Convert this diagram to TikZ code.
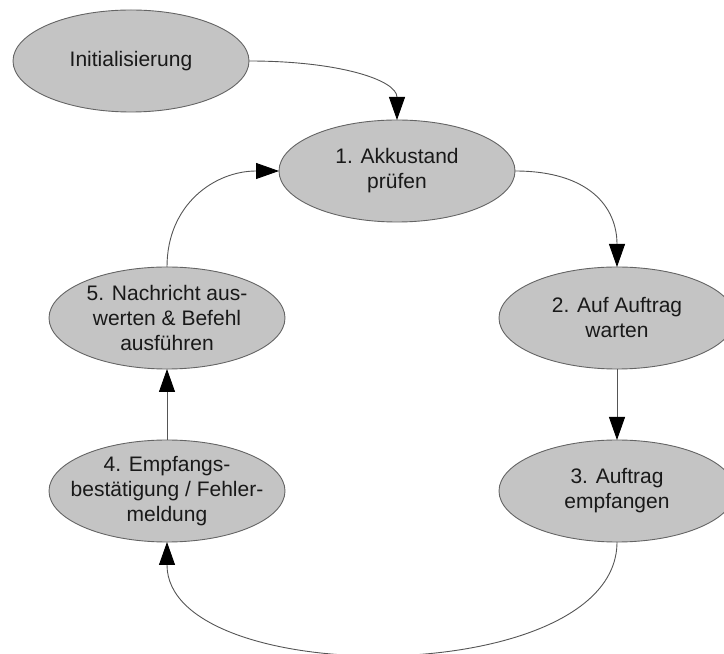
\documentclass[tikz,border=0pt]{standalone}
\usepackage{fontspec}
\setmainfont{Liberation Sans}
\usetikzlibrary{shapes.geometric,arrows.meta}
\definecolor{stfill}{RGB}{196,196,196}
\definecolor{stline}{RGB}{100,100,100}
\definecolor{conn}{RGB}{85,85,85}
\tikzset{
  state/.style={ellipse, draw=stline, fill=stfill, line width=0.9pt,
    minimum width=236pt, minimum height=102pt, inner sep=0pt, outer sep=0pt},
  statetext/.style={align=center, inner sep=0pt,
    font=\fontsize{21pt}{25pt}\selectfont, text=black!90},
  conn/.style={draw=conn, line width=0.9pt,
    -{Triangle[length=23pt,width=16pt,color=black]}},
}
\begin{document}
\begin{tikzpicture}[x=1pt,y=1pt]
  \useasboundingbox (0,0) rectangle (724,654);
  \clip (0,0) rectangle (724,654);

  % states of the cycle
  \node[state] (init) at (131,593) {};
  \node[state] (e1) at (397,483) {};
  \node[state] (e2) at (617,336) {};
  \node[state] (e3) at (617,163) {};
  \node[state] (e4) at (167,163) {};
  \node[state] (e5) at (167,336) {};

  \node[statetext] (tinit) at (init) {Initialisierung};
  \node[statetext] (t1) at (e1) {1. Akkustand\\prüfen};
  \node[statetext] (t2) at (e2) {2. Auf Auftrag\\warten};
  \node[statetext] (t3) at (e3) {3. Auftrag\\empfangen};
  \node[statetext] (t4) at (e4) {4. Empfangs-\\bestätigung / Fehler-\\meldung};
  \node[statetext] (t5) at (e5) {5. Nachricht aus-\\werten \& Befehl\\ausführen};

  % transitions
  \draw[conn] (init.east) .. controls +(90,0) and +(0,40) .. (e1.north);
  \draw[conn] (e1.east) .. controls +(74,0) and +(0,60) .. (e2.north);
  \draw[conn] (e2.south) -- (e3.north);
  \draw[conn] (e3.south) .. controls +(0,-148) and +(0,-148) .. (e4.south);
  \draw[conn] (e4.north) -- (e5.south);
  \draw[conn] (e5.north) .. controls +(0,63) and +(-64,0) .. (e1.west);
\end{tikzpicture}
\end{document}
